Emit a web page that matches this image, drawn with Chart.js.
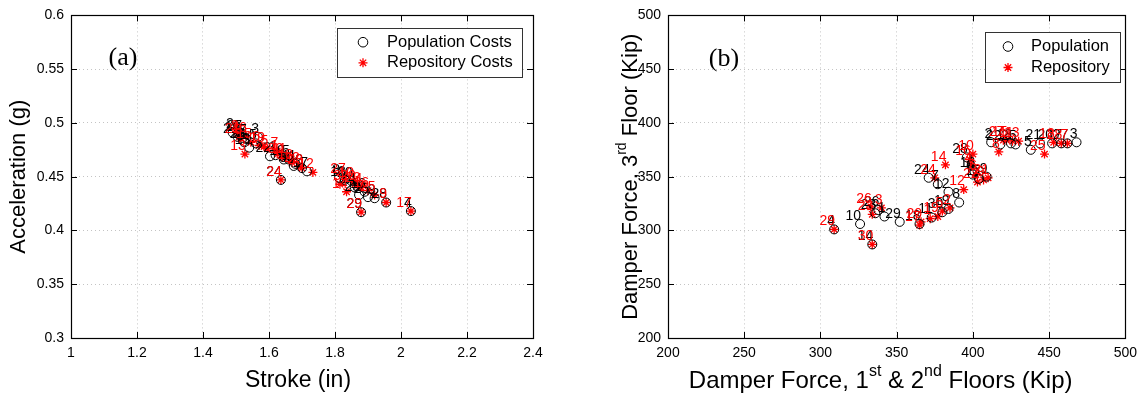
<!DOCTYPE html>
<html lang="en">
<head>
<meta charset="UTF-8" />
<title>Damper design comparison</title>
<style>
  html, body { margin: 0; padding: 0; background: #fff; }
  .panel { position: absolute; top: 0; width: 572px; height: 396px; }
  #wrapA { left: 0; }
  #wrapB { left: 572px; }
</style>
</head>
<body>
<div class="panel" id="wrapA"><canvas id="chartA"></canvas></div>
<div class="panel" id="wrapB"><canvas id="chartB"></canvas></div>
<script src="https://cdn.jsdelivr.net/npm/chart.js@4.4.1/dist/chart.umd.min.js"></script>
<script>
// panel (a): stroke (in) vs acceleration (g), design number = index + 1
const strokePop = [1.62, 1.49, 1.567, 2.03, 1.66, 1.52, 1.53, 1.812, 1.92, 1.51, 1.68, 1.70, 1.54, 1.86, 1.56,
  1.89, 1.715, 1.83, 1.645, 1.85, 1.505, 1.603, 1.873, 1.636, 1.90, 1.525, 1.515, 1.955, 1.879, 1.675];
const accelPop = [0.470, 0.491, 0.487, 0.418, 0.466, 0.486, 0.486, 0.449, 0.430, 0.489, 0.462, 0.458, 0.477, 0.440, 0.481,
  0.436, 0.455, 0.447, 0.466, 0.446, 0.487, 0.469, 0.433, 0.447, 0.431, 0.482, 0.490, 0.426, 0.417, 0.460];
const strokeRep = [1.625, 1.505, 1.815, 1.88, 1.595, 1.57, 1.625, 1.515, 1.955, 1.855, 1.65, 1.733, 1.527, 1.835, 1.545,
  1.90, 2.03, 1.67, 1.585, 1.86, 1.51, 1.69, 1.875, 1.636, 1.92, 1.53, 1.83, 1.70, 1.879, 1.64];
const accelRep = [0.471, 0.490, 0.443, 0.440, 0.476, 0.479, 0.474, 0.486, 0.426, 0.446, 0.468, 0.454, 0.471, 0.436, 0.482,
  0.437, 0.418, 0.463, 0.478, 0.443, 0.487, 0.460, 0.441, 0.447, 0.433, 0.488, 0.450, 0.458, 0.417, 0.468];

// panel (b): damper force 1st & 2nd floors vs 3rd floor (kip)
const lowerPop = [342, 412, 468, 309, 438, 400, 377, 391, 409, 326, 373, 384, 425, 334, 404,
  401, 458, 365, 384, 452, 444, 418, 336, 371, 428, 338, 462, 396, 352, 380];
const upperPop = [313, 382, 382, 301, 375, 352, 343, 326, 350, 306, 312, 336, 381, 287, 348,
  355, 381, 306, 320, 381, 381, 380, 316, 349, 380, 319, 381, 368, 308, 317];
const lowerRep = [372, 385, 340, 399, 380, 402, 462, 417, 407, 400, 426, 394, 430, 382, 422,
  398, 365, 453, 377, 366, 410, 403, 334, 375, 447, 333, 420, 458, 309, 334];
const upperRep = [311, 321, 321, 360, 318, 352, 381, 373, 347, 371, 383, 338, 383, 361, 384,
  366, 305, 382, 313, 308, 349, 345, 315, 349, 371, 322, 384, 381, 301, 287];

const strokeTicks = [1, 1.2, 1.4, 1.6, 1.8, 2, 2.2, 2.4];
const strokeTickLabels = ["1", "1.2", "1.4", "1.6", "1.8", "2", "2.2", "2.4"];
const accelTicks = [0.3, 0.35, 0.4, 0.45, 0.5, 0.55, 0.6];
const accelTickLabels = ["0.3", "0.35", "0.4", "0.45", "0.5", "0.55", "0.6"];
const forceTicks = [200, 250, 300, 350, 400, 450, 500];
const forceTickLabels = ["200", "250", "300", "350", "400", "450", "500"];

const SANS = "'Liberation Sans', Arial, sans-serif";
const RED = "#ff0000";

function pairs(xs, ys) {
  return xs.map((x, i) => ({ x: x, y: ys[i] }));
}

// numbers next to every marker
const pointNumbers = {
  id: "pointNumbers",
  afterDatasetsDraw(chart) {
    const ctx = chart.ctx;
    ctx.save();
    ctx.font = "14px " + SANS;
    ctx.textAlign = "right";
    ctx.textBaseline = "bottom";
    chart.data.datasets.forEach((ds, di) => {
      ctx.fillStyle = ds.borderColor;
      chart.getDatasetMeta(di).data.forEach((pt, i) => {
        ctx.fillText(String(i + 1), pt.x + 1, pt.y - 1);
      });
    });
    ctx.restore();
  },
};

function richText(ctx, parts, size) {
  // parts: [text, superscript?]
  let w = 0;
  parts.forEach(([t, sup]) => {
    ctx.font = (sup ? Math.round(size * 0.65) : size) + "px " + SANS;
    w += ctx.measureText(t).width;
  });
  let x = -w / 2;
  parts.forEach(([t, sup]) => {
    ctx.font = (sup ? Math.round(size * 0.65) : size) + "px " + SANS;
    ctx.fillText(t, x, sup ? -size * 0.38 : 0);
    x += ctx.measureText(t).width;
  });
}

// box, inward ticks, axis titles, legend, panel tag
const matlabFrame = {
  id: "matlabFrame",
  afterDraw(chart, args, o) {
    const { ctx, chartArea: a, scales: { x, y } } = chart;
    ctx.save();
    ctx.strokeStyle = "#000";
    ctx.lineWidth = 1;
    ctx.beginPath();
    const L = 6;
    x.ticks.forEach((t) => {
      const px = Math.round(x.getPixelForValue(t.value)) + 0.5;
      ctx.moveTo(px, a.bottom); ctx.lineTo(px, a.bottom - L);
      ctx.moveTo(px, a.top); ctx.lineTo(px, a.top + L);
    });
    y.ticks.forEach((t) => {
      const py = Math.round(y.getPixelForValue(t.value)) + 0.5;
      ctx.moveTo(a.left, py); ctx.lineTo(a.left + L, py);
      ctx.moveTo(a.right, py); ctx.lineTo(a.right - L, py);
    });
    ctx.stroke();
    ctx.lineWidth = 1.2;
    ctx.strokeRect(Math.round(a.left) + 0.5, Math.round(a.top) + 0.5,
      Math.round(a.right - a.left), Math.round(a.bottom - a.top));

    // axis titles
    ctx.fillStyle = "#000";
    ctx.textBaseline = "middle";
    ctx.textAlign = "left";
    ctx.save();
    ctx.translate((a.left + a.right) / 2 + o.xTitleShift, o.xTitleY);
    richText(ctx, o.xTitle, o.xTitleSize);
    ctx.restore();
    ctx.save();
    ctx.translate(o.yTitleX, (a.top + a.bottom) / 2);
    ctx.rotate(-Math.PI / 2);
    richText(ctx, o.yTitle, o.yTitleSize);
    ctx.restore();

    // panel tag
    ctx.font = "26px 'Liberation Serif', 'Times New Roman', serif";
    ctx.textAlign = "center";
    ctx.fillText(o.tag, o.tagX, o.tagY);

    // legend
    const lg = o.legend;
    ctx.fillStyle = "#fff";
    ctx.fillRect(lg.left, lg.top, lg.w, lg.h);
    ctx.strokeStyle = "#333";
    ctx.lineWidth = 1;
    ctx.strokeRect(lg.left + 0.5, lg.top + 0.5, lg.w, lg.h);
    const mx = lg.left + lg.markX;
    const r1 = lg.top + lg.h * 0.29, r2 = lg.top + lg.h * 0.71;
    ctx.beginPath();
    ctx.arc(mx, r1, 4.8, 0, Math.PI * 2);
    ctx.strokeStyle = "#000";
    ctx.stroke();
    ctx.strokeStyle = RED;
    ctx.lineWidth = 1.3;
    ctx.beginPath();
    for (let k = 0; k < 4; k++) {
      const ang = (k * Math.PI) / 4;
      ctx.moveTo(mx - 4.5 * Math.cos(ang), r2 - 4.5 * Math.sin(ang));
      ctx.lineTo(mx + 4.5 * Math.cos(ang), r2 + 4.5 * Math.sin(ang));
    }
    ctx.stroke();
    ctx.fillStyle = "#000";
    ctx.textAlign = "left";
    ctx.font = lg.font + "px " + SANS;
    ctx.fillText(lg.labels[0], lg.left + lg.textX, r1);
    ctx.fillText(lg.labels[1], lg.left + lg.textX, r2);
    ctx.restore();
  },
};

function axis(min, max, vals, labels, fitSize, isX) {
  return {
    type: "linear",
    min: min,
    max: max,
    afterBuildTicks: (s) => { s.ticks = vals.map((v) => ({ value: v })); },
    afterFit: (s) => { if (isX) s.height = fitSize; else s.width = fitSize; },
    grid: { color: "#c4c4c4", lineWidth: 1, drawTicks: false },
    border: { display: false, dash: [1, 3] },
    ticks: {
      color: "#000",
      padding: 7,
      font: { family: SANS, size: 14 },
      callback: (v, i) => labels[i],
    },
  };
}

function makeChart(id, xs1, ys1, xs2, ys2, xAx, yAx, pad, frame) {
  return new Chart(document.getElementById(id), {
    type: "scatter",
    data: {
      datasets: [
        {
          label: frame.legend.labels[0],
          data: pairs(xs1, ys1),
          pointStyle: "circle",
          pointRadius: 4.5,
          borderColor: "#000",
          backgroundColor: "rgba(0,0,0,0)",
          borderWidth: 1,
        },
        {
          label: frame.legend.labels[1],
          data: pairs(xs2, ys2),
          pointStyle: "star",
          pointRadius: 4.5,
          borderColor: RED,
          backgroundColor: RED,
          borderWidth: 1.3,
        },
      ],
    },
    options: {
      responsive: true,
      maintainAspectRatio: false,
      animation: false,
      layout: { padding: pad },
      plugins: {
        legend: { display: false },
        tooltip: { enabled: false },
        matlabFrame: frame,
      },
      scales: { x: xAx, y: yAx },
    },
    plugins: [pointNumbers, matlabFrame],
  });
}

makeChart("chartA", strokePop, accelPop, strokeRep, accelRep,
  axis(1, 2.4, strokeTicks, strokeTickLabels, 58, true),
  axis(0.3, 0.6, accelTicks, accelTickLabels, 71, false),
  { left: 0, right: 39, top: 15, bottom: 0 },
  {
    xTitleSize: 23, yTitleSize: 22,
    xTitle: [["Stroke (in)", false]], xTitleShift: -4, xTitleY: 381,
    yTitle: [["Acceleration (g)", false]], yTitleX: 19,
    tag: "(a)", tagX: 123, tagY: 58,
    legend: { left: 337, top: 28, w: 185, h: 49, markX: 26, textX: 50, font: 16.5,
      labels: ["Population Costs", "Repository Costs"] },
  });

makeChart("chartB", lowerPop, upperPop, lowerRep, upperRep,
  axis(200, 500, forceTicks, forceTickLabels, 58, true),
  axis(200, 500, forceTicks, forceTickLabels, 96, false),
  { left: 0, right: 13, top: 15, bottom: 0 },
  {
    xTitleSize: 24, yTitleSize: 22,
    xTitle: [["Damper Force, 1", false], ["st", true], [" & 2", false], ["nd", true], [" Floors (Kip)", false]],
    xTitleShift: -16, xTitleY: 381,
    yTitle: [["Damper Force, 3", false], ["rd", true], [" Floor (Kip)", false]], yTitleX: 59,
    tag: "(b)", tagX: 152, tagY: 59,
    legend: { left: 413, top: 32, w: 135, h: 50, markX: 23, textX: 46, font: 16.5,
      labels: ["Population", "Repository"] },
  });
</script>
</body>
</html>
